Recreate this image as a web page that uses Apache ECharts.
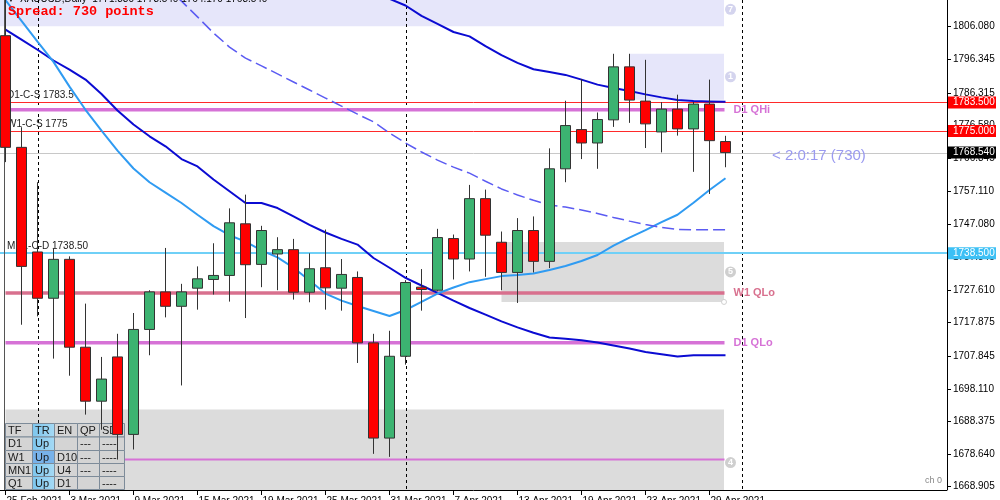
<!DOCTYPE html>
<html><head><meta charset="utf-8">
<script src="https://cdn.jsdelivr.net/npm/echarts@6/dist/echarts.min.js"></script>
<style>html,body{margin:0;padding:0;background:#fff}#c{width:1000px;height:500px}</style>
</head><body><div id="c"></div>
<script>
// ---------- data ----------
const categories = ['25 Feb 2021','26 Feb 2021','1 Mar 2021','2 Mar 2021','3 Mar 2021','4 Mar 2021','5 Mar 2021','8 Mar 2021','9 Mar 2021','10 Mar 2021','11 Mar 2021','12 Mar 2021','15 Mar 2021','16 Mar 2021','17 Mar 2021','18 Mar 2021','19 Mar 2021','22 Mar 2021','23 Mar 2021','24 Mar 2021','25 Mar 2021','26 Mar 2021','29 Mar 2021','30 Mar 2021','31 Mar 2021','1 Apr 2021','5 Apr 2021','6 Apr 2021','7 Apr 2021','8 Apr 2021','9 Apr 2021','12 Apr 2021','13 Apr 2021','14 Apr 2021','15 Apr 2021','16 Apr 2021','19 Apr 2021','20 Apr 2021','21 Apr 2021','22 Apr 2021','23 Apr 2021','26 Apr 2021','27 Apr 2021','28 Apr 2021','29 Apr 2021','30 Apr 2021'];
const futureSlots = ['3 May 2021','4 May 2021','5 May 2021','6 May 2021','7 May 2021','10 May 2021','11 May 2021','12 May 2021','13 May 2021','14 May 2021','17 May 2021','18 May 2021','19 May 2021'];
const opens  = [1803.4,1770.1,1738.9,1725.1,1736.7,1710.5,1694.4,1707.6,1684.5,1715.8,1727.0,1722.7,1728.1,1730.7,1731.9,1747.3,1735.2,1738.3,1739.6,1726.9,1734.2,1728.1,1731.3,1711.8,1683.4,1707.8,1728.4,1727.5,1742.9,1736.8,1754.8,1741.8,1732.8,1745.3,1736.1,1763.7,1775.4,1771.4,1778.3,1794.1,1783.9,1774.7,1781.5,1775.6,1783.0,1771.83];
const highs  = [1815.0,1776.1,1759.7,1740.1,1737.6,1723.5,1707.6,1714.5,1720.7,1727.5,1740.1,1729.4,1734.6,1741.5,1751.9,1756.0,1746.7,1743.3,1742.8,1738.5,1745.6,1736.8,1733.1,1714.5,1715.4,1730.5,1733.8,1745.8,1744.1,1758.9,1757.5,1745.0,1749.0,1749.5,1769.8,1784.0,1790.5,1780.5,1798.0,1798.0,1796.2,1783.6,1785.8,1783.6,1790.3,1773.54];
const lows   = [1765.7,1717.2,1719.7,1707.1,1702.0,1690.4,1685.9,1677.0,1680.0,1708.1,1719.4,1699.1,1721.7,1726.2,1724.1,1719.2,1728.4,1727.5,1724.7,1723.9,1721.7,1721.4,1705.8,1678.7,1677.8,1705.3,1721.4,1727.2,1730.7,1733.1,1731.5,1727.5,1723.7,1732.8,1734.1,1759.7,1766.6,1763.7,1776.2,1777.4,1769.9,1768.6,1773.6,1762.8,1756.2,1764.17];
const closes = [1770.1,1734.6,1725.1,1736.7,1710.5,1694.4,1701.0,1684.5,1715.8,1727.0,1722.7,1727.0,1730.9,1731.9,1747.6,1735.1,1745.3,1739.6,1726.9,1733.9,1728.2,1732.2,1711.8,1683.4,1707.8,1729.8,1727.7,1743.2,1736.8,1754.8,1743.9,1732.8,1745.3,1736.1,1763.7,1776.6,1771.4,1778.4,1794.1,1784.2,1777.1,1781.5,1775.6,1783.0,1772.1,1768.54];
const maFast = [1814.0,1807.8,1801.6,1795.6,1788.2,1781.3,1775.1,1769.1,1763.8,1759.7,1756.6,1753.5,1750.0,1746.6,1743.9,1742.0,1739.4,1737.3,1734.2,1730.4,1726.5,1724.4,1722.8,1721.3,1719.8,1721.6,1724.0,1726.5,1728.3,1729.9,1730.8,1731.7,1732.0,1732.5,1733.5,1734.7,1736.2,1738.0,1740.8,1743.2,1745.4,1747.8,1750.0,1753.6,1757.4,1760.9];
const maSlowLow = [1805.2,1802.2,1799.2,1796.0,1793.3,1790.3,1786.0,1781.1,1776.9,1773.4,1770.4,1766.6,1764.4,1760.5,1757.0,1753.5,1753.5,1752.0,1749.5,1747.0,1744.7,1742.8,1741.1,1737.1,1734.2,1731.2,1728.9,1726.7,1724.4,1722.2,1720.2,1718.2,1716.4,1714.8,1713.4,1713.0,1712.6,1711.9,1711.0,1710.1,1709.1,1708.4,1707.7,1708.1,1708.1,1708.1];
const maSlowHigh = [null,null,null,null,null,null,null,null,null,null,null,null,null,null,null,null,null,null,null,null,null,null,1820.0,1817.0,1814.4,1812.4,1809.3,1806.9,1804.5,1803.2,1800.3,1797.6,1795.3,1793.4,1792.6,1791.7,1790.3,1788.8,1787.8,1786.9,1785.9,1785.0,1784.2,1783.9,1783.8,1783.7];
const maDashed = [null,null,null,null,null,null,null,null,null,null,1818.0,1813.7,1809.0,1804.2,1800.0,1796.7,1794.4,1792.0,1789.6,1787.2,1784.8,1782.4,1780.0,1777.7,1774.4,1771.4,1768.7,1766.3,1764.2,1762.4,1760.0,1757.7,1755.9,1754.3,1752.9,1752.3,1751.4,1750.4,1749.2,1748.1,1747.1,1746.2,1745.6,1745.5,1745.5,1745.5];
const yTicks = [1806.080,1796.345,1786.315,1776.580,1766.845,1757.110,1747.080,1737.345,1727.610,1717.875,1707.845,1698.110,1688.375,1678.640,1668.905];
const yMin = 1667.92, yMax = 1814.04;
const levelValues = [1783.5, 1775.0, 1768.54, 1738.5];
const levelLabels = ['D1-C-S 1783.5', 'W1-C-S 1775', '', 'MN1-C-D 1738.50'];
const levelTags = ['1783.500', '1775.000', '1768.540', '1738.500'];
const zoneValues = [1781.3, 1726.7, 1711.8];
const zoneLabels = ['D1 QHi', 'W1 QLo', 'D1 QLo'];
const lowLineValue = 1677.0;
const boxStart = [0, 39, 31, 0];
const boxEnd = [45, 45, 45, 45];
const boxTop = [yMax, 1798.0, 1741.9, 1691.9];
const boxBottom = [1806.2, 1784.3, 1724.0, yMin];
const boxMarks = ['7', '1', '5', '4'];
const separatorIdx = [2, 25, 46];
const headerText = 'XAUUSD,Daily  1771.830 1773.540 1764.170 1768.540';
const spreadText = 'Spread: 730 points';
const timerText = '< 2:0:17 (730)';
const tableHead = ['TF','TR','EN','QP','SD'];
const tableRows = [['D1','Up','','---','----'],['W1','Up','D10','---','----'],['MN1','Up','U4','---','----'],['Q1','Up','D1','','----']];

// ---------- chart ----------
const allCats = categories.concat(futureSlots);
const showIdx = (i) => i % 4 === 0 && i < categories.length;
const chart = echarts.init(document.getElementById('c'), null, {renderer: 'canvas', devicePixelRatio: 1});
const FONT = 'Liberation Sans, Arial, sans-serif';
chart.setOption({
  animation: false,
  backgroundColor: '#ffffff',
  grid: {left: -2.5, top: 0, width: 944, height: 490, containLabel: false, outerBoundsMode: 'none'},
  xAxis: {
    type: 'category', data: allCats, boundaryGap: true,
    axisLine: {show: false},
    axisTick: {show: true, alignWithLabel: true, interval: showIdx, length: 5, lineStyle: {color: '#000'}},
    axisLabel: {interval: showIdx, align: 'left', margin: 6, fontSize: 10, color: '#000', fontFamily: FONT, padding: [0,0,0,1], hideOverlap: false},
    splitLine: {show: false}
  },
  yAxis: {
    type: 'value', position: 'right', offset: 5.5, min: yMin, max: yMax,
    axisLine: {show: true, lineStyle: {color: '#000'}},
    axisTick: {show: true, length: 4, customValues: yTicks, lineStyle: {color: '#000'}},
    axisLabel: {customValues: yTicks, formatter: v => v.toFixed(3), margin: 6, fontSize: 10, color: '#000', fontFamily: FONT},
    splitLine: {show: false}
  },
  series: [
    {type: 'line', data: maSlowLow, symbol: 'none', z: 3, clip: true, lineStyle: {color: '#0b0bd2', width: 2}},
    {type: 'line', data: maSlowHigh, symbol: 'none', z: 3, clip: true, lineStyle: {color: '#0b0bd2', width: 2}},
    {type: 'line', data: maFast, symbol: 'none', z: 3, clip: true, lineStyle: {color: '#2f9bf2', width: 2}},
    {type: 'line', data: maDashed, symbol: 'none', z: 3, clip: true, lineStyle: {color: '#5b5bf2', width: 1.5, type: [12, 5]}},
    {type: 'candlestick', z: 5, clip: true, barWidth: 11,
      data: opens.map((o, i) => [o, closes[i], lows[i], highs[i]]),
      itemStyle: {color: '#3cb371', color0: '#ff0000', borderColor: '#333333', borderColor0: '#333333', borderWidth: 1}}
  ]
});

// ---------- overlays through the chart's own scales ----------
const px = i => chart.convertToPixel({xAxisIndex: 0}, i);
const py = v => chart.convertToPixel({yAxisIndex: 0}, v);
const crisp = y => Math.round(y) + 0.5;
const rightX = 947;
const g = [];
// rectangles
boxStart.forEach((s, k) => {
  const x0 = k === 0 ? 0 : px(s), x1 = px(boxEnd[k]) - 1.5, y0 = py(boxTop[k]), y1 = py(boxBottom[k]);
  g.push({type: 'rect', z: 0, silent: true, shape: {x: x0, y: y0, width: x1 - x0, height: y1 - y0},
    style: {fill: (k < 2) ? '#e6e6fa' : '#dcdcdc'}});
});
// separators
separatorIdx.forEach(i => {
  const x = Math.round(px(i)) + 0.5;
  g.push({type: 'line', z: 1, silent: true, shape: {x1: x, y1: 0, x2: x, y2: 490}, style: {stroke: '#000', lineWidth: 1, lineDash: [3, 3]}});
});
// full-width levels
const levelColors = ['#ff2a2a', '#ff2a2a', '#c8c8c8', '#6fd0f7'];
const levelWidths = [1, 1, 1, 2];
levelValues.forEach((v, k) => {
  const y = levelWidths[k] === 1 ? crisp(py(v)) : Math.round(py(v));
  g.push({type: 'line', z: 1, silent: true, shape: {x1: 0, y1: y, x2: rightX, y2: y}, style: {stroke: levelColors[k], lineWidth: levelWidths[k]}});
  if (levelLabels[k]) g.push({type: 'text', z: 1, silent: true, x: 7, y: y - 2,
    style: {text: levelLabels[k], fill: '#222', font: '10px ' + FONT, textVerticalAlign: 'bottom'}});
});
// zone lines
const zoneColors = ['#d672d6', '#d8708e', '#d672d6'];
zoneValues.forEach((v, k) => {
  const y = py(v);
  g.push({type: 'line', z: 1, silent: true, shape: {x1: px(0), y1: y, x2: px(45) - 1, y2: y}, style: {stroke: zoneColors[k], lineWidth: 3.5}});
  g.push({type: 'text', z: 1, silent: true, x: px(45) + 8, y: y,
    style: {text: zoneLabels[k], fill: zoneColors[k], font: 'bold 11px ' + FONT, textVerticalAlign: 'middle'}});
});
{
  const y = py(lowLineValue);
  g.push({type: 'line', z: 1, silent: true, shape: {x1: px(0), y1: y, x2: px(45) - 1, y2: y}, style: {stroke: '#d672d6', lineWidth: 2}});
}
// circled marks
boxMarks.forEach((m, k) => {
  let y = (py(boxTop[k]) + py(boxBottom[k])) / 2;
  if (k === 0) y = py(boxBottom[k]) - 17;
  if (k === 3) y = py(lowLineValue) + 3;
  const cx = px(45) + 5;
  g.push({type: 'circle', z: 1, silent: true, shape: {cx: cx, cy: y, r: 5.5}, style: {fill: k < 2 ? '#d4d4ee' : '#cfcfcf'}});
  g.push({type: 'text', z: 1, silent: true, x: cx, y: y, style: {text: m, fill: '#fff', font: 'bold 9px ' + FONT, textAlign: 'center', textVerticalAlign: 'middle'}});
});
g.push({type: 'circle', z: 1, silent: true, shape: {cx: px(45) - 1.5, cy: py(boxBottom[2]), r: 2.5}, style: {fill: '#fff', stroke: '#d0d0d0', lineWidth: 1}});
// left border
g.push({type: 'line', z: 1, silent: true, shape: {x1: 4.5, y1: 0, x2: 4.5, y2: 490}, style: {stroke: '#555', lineWidth: 1}});
// table
const colX = [5, 32, 54, 77, 99, 124];
const rowY = [423, 436.5, 450, 463, 476, 489];
const rowsAll = [tableHead].concat(tableRows);
rowsAll.forEach((row, r) => {
  row.forEach((cell, c) => {
    let fill = '#d4d4d4';
    if (c === 1) fill = (r === 2) ? '#78b2ea' : new echarts.graphic.LinearGradient(0, 0, 1, 0, [{offset: 0, color: '#7cc6ee'}, {offset: 1, color: '#a6daf5'}]);
    g.push({type: 'rect', z: 2, silent: true, shape: {x: colX[c] + 0.5, y: rowY[r] + 0.5, width: colX[c + 1] - colX[c], height: rowY[r + 1] - rowY[r]},
      style: {fill: fill, stroke: '#7d8b99', lineWidth: 1}});
    if (cell) g.push({type: 'text', z: 2, silent: true, x: colX[c] + 3, y: (rowY[r] + rowY[r + 1]) / 2 + 1,
      style: {text: cell, fill: '#1a1a1a', font: '11px ' + FONT, textVerticalAlign: 'middle'}});
  });
});
// price tags
const tagColors = ['#ff0000', '#ff0000', '#000000', '#3cc0f5'];
levelValues.forEach((v, k) => {
  const y = py(v);
  g.push({type: 'rect', z: 50, silent: true, shape: {x: 948, y: y - 6, width: 48, height: 12}, style: {fill: tagColors[k]}});
  g.push({type: 'text', z: 51, silent: true, x: 953, y: y, style: {text: levelTags[k], fill: '#fff', font: '10px ' + FONT, textVerticalAlign: 'middle'}});
});
// bottom axis line
g.push({type: 'line', z: 50, silent: true, shape: {x1: 0, y1: 490.5, x2: rightX, y2: 490.5}, style: {stroke: '#000', lineWidth: 1}});
// texts
g.push({type: 'text', z: 50, silent: true, x: 7, y: 4, style: {text: '\u25BC', fill: '#000', font: '8px ' + FONT, textVerticalAlign: 'bottom'}});
g.push({type: 'text', z: 50, silent: true, x: 20, y: 4.5, style: {text: headerText, fill: '#000', font: '10px ' + FONT, textVerticalAlign: 'bottom'}});
g.push({type: 'text', z: 50, silent: true, x: 8, y: 12, style: {text: spreadText, fill: '#ff0000', font: 'bold 13.5px "Liberation Mono", "Courier New", monospace', textVerticalAlign: 'middle'}});
g.push({type: 'text', z: 50, silent: true, x: 772, y: 155.5, style: {text: timerText, fill: '#9a9af0', font: '15px ' + FONT, textVerticalAlign: 'middle'}});
g.push({type: 'text', z: 50, silent: true, x: 925, y: 481, style: {text: 'ch 0', fill: '#888', font: '9px ' + FONT, textVerticalAlign: 'middle'}});
chart.setOption({graphic: {elements: g}});
</script>
</body></html>
